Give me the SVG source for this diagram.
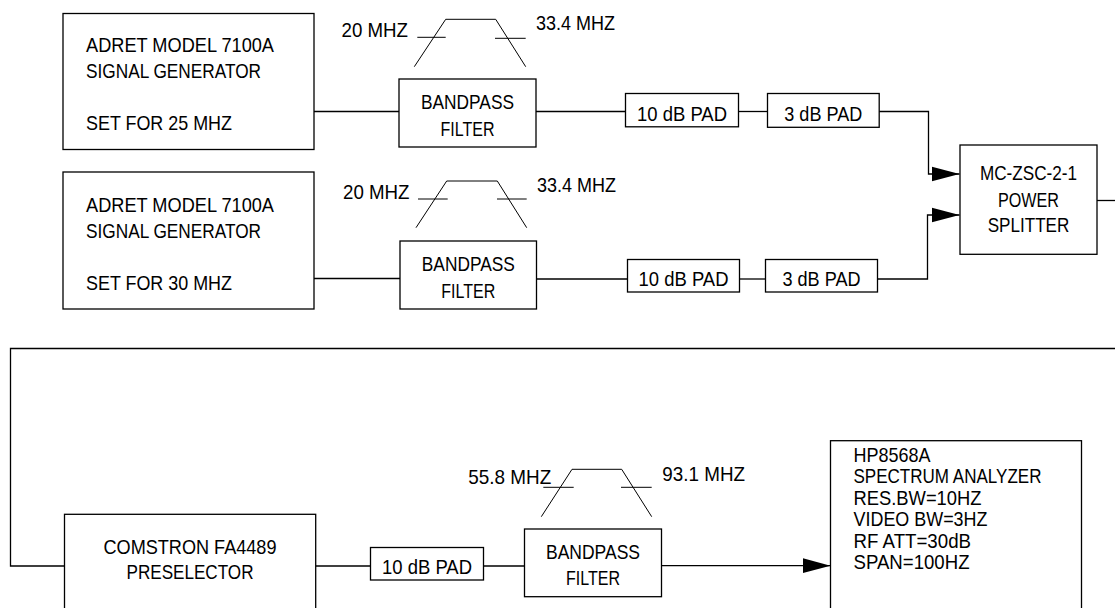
<svg xmlns="http://www.w3.org/2000/svg" width="1115" height="608" viewBox="0 0 1115 608">
<style>
  .box{fill:#fff;stroke:#000;stroke-width:1.3}
  .ln{fill:none;stroke:#000;stroke-width:1.3}
  .sym{fill:none;stroke:#000;stroke-width:1}
  text{font-family:"Liberation Sans Narrow","Liberation Sans",Arial,sans-serif;font-size:21px;fill:#000}
  .c{text-anchor:middle}
</style>
<defs>
  <marker id="arr" markerUnits="userSpaceOnUse" markerWidth="28" markerHeight="16" refX="28" refY="8" orient="auto">
    <path d="M0,0.5 L28,8 L0,15.5 z" fill="#000"/>
  </marker>
</defs>
<rect width="1115" height="608" fill="#fff"/>

<g id="connectors">
  <line class="ln" x1="314" y1="111.5" x2="399" y2="111.5"/>
  <line class="ln" x1="536" y1="111.5" x2="625.5" y2="111.5"/>
  <line class="ln" x1="738.5" y1="111.5" x2="767.5" y2="111.5"/>
  <polyline class="ln" points="879,111.5 928.5,111.5 928.5,174 959.5,174" marker-end="url(#arr)"/>
  <line class="ln" x1="314" y1="278.5" x2="400" y2="278.5"/>
  <line class="ln" x1="536.5" y1="279" x2="627.5" y2="279"/>
  <line class="ln" x1="739.5" y1="279" x2="765.5" y2="279"/>
  <polyline class="ln" points="877.5,279 927.5,279 927.5,215 959.5,215" marker-end="url(#arr)"/>
  <line class="ln" x1="1097" y1="200.5" x2="1115" y2="200.5"/>
  <polyline class="ln" points="1115,348.5 10.5,348.5 10.5,566 64.5,566"/>
  <line class="ln" x1="315.5" y1="566" x2="370.5" y2="566"/>
  <line class="ln" x1="483.5" y1="566" x2="524.5" y2="566"/>
  <line class="ln" x1="661.5" y1="565.7" x2="830.5" y2="565.7" marker-end="url(#arr)"/>
</g>

<g id="gen1">
  <rect class="box" x="63" y="13.5" width="251" height="136"/>
  <text x="86" y="52" textLength="188" lengthAdjust="spacingAndGlyphs">ADRET MODEL 7100A</text>
  <text x="86" y="78" textLength="175" lengthAdjust="spacingAndGlyphs">SIGNAL GENERATOR</text>
  <text x="86" y="130" textLength="146" lengthAdjust="spacingAndGlyphs">SET FOR 25 MHZ</text>
</g>
<g id="gen2">
  <rect class="box" x="63" y="172" width="251" height="137"/>
  <text x="86" y="212" textLength="188" lengthAdjust="spacingAndGlyphs">ADRET MODEL 7100A</text>
  <text x="86" y="238" textLength="175" lengthAdjust="spacingAndGlyphs">SIGNAL GENERATOR</text>
  <text x="86" y="290" textLength="146" lengthAdjust="spacingAndGlyphs">SET FOR 30 MHZ</text>
</g>

<g id="bpf1">
  <rect class="box" x="399" y="79" width="137" height="68"/>
  <text class="c" x="467.5" y="109" textLength="93" lengthAdjust="spacingAndGlyphs">BANDPASS</text>
  <text class="c" x="467.5" y="135.5" textLength="54" lengthAdjust="spacingAndGlyphs">FILTER</text>
  <polyline class="sym" points="414.3,66.7 445.7,19.3 495.7,19.3 525.7,66.7"/>
  <line class="sym" x1="417.3" y1="37.3" x2="445.7" y2="37.3"/>
  <line class="sym" x1="495" y1="38.3" x2="525.7" y2="38.3"/>
  <text x="341.5" y="37" textLength="66.5" lengthAdjust="spacingAndGlyphs">20 MHZ</text>
  <text x="536" y="29.5" textLength="79" lengthAdjust="spacingAndGlyphs">33.4 MHZ</text>
</g>
<g id="bpf2">
  <rect class="box" x="400" y="241" width="136.5" height="68"/>
  <text class="c" x="468.3" y="271" textLength="93" lengthAdjust="spacingAndGlyphs">BANDPASS</text>
  <text class="c" x="468.3" y="297.5" textLength="54" lengthAdjust="spacingAndGlyphs">FILTER</text>
  <polyline class="sym" points="416,227.7 446.7,181 497.3,181 526.7,227.7"/>
  <line class="sym" x1="418" y1="199" x2="447.7" y2="199"/>
  <line class="sym" x1="497" y1="199" x2="526.7" y2="199"/>
  <text x="343" y="199" textLength="66.5" lengthAdjust="spacingAndGlyphs">20 MHZ</text>
  <text x="537" y="191.5" textLength="79" lengthAdjust="spacingAndGlyphs">33.4 MHZ</text>
</g>

<g id="pad1a">
  <rect class="box" x="625.5" y="93.5" width="113" height="33.3"/>
  <text class="c" x="682" y="120.5" textLength="90" lengthAdjust="spacingAndGlyphs">10 dB PAD</text>
</g>
<g id="pad2a">
  <rect class="box" x="767.5" y="93.5" width="111.7" height="33.8"/>
  <text class="c" x="823.3" y="120.5" textLength="78" lengthAdjust="spacingAndGlyphs">3 dB PAD</text>
</g>
<g id="pad1b">
  <rect class="box" x="627.5" y="259.5" width="112" height="32.5"/>
  <text class="c" x="683.5" y="285.5" textLength="90" lengthAdjust="spacingAndGlyphs">10 dB PAD</text>
</g>
<g id="pad2b">
  <rect class="box" x="765.5" y="259.5" width="112" height="32.5"/>
  <text class="c" x="821.5" y="285.5" textLength="78" lengthAdjust="spacingAndGlyphs">3 dB PAD</text>
</g>

<g id="splitter">
  <rect class="box" x="960" y="145" width="137" height="109.3"/>
  <text class="c" x="1028.5" y="180" textLength="97" lengthAdjust="spacingAndGlyphs">MC-ZSC-2-1</text>
  <text class="c" x="1028.5" y="206.5" textLength="61" lengthAdjust="spacingAndGlyphs">POWER</text>
  <text class="c" x="1028.5" y="231.5" textLength="81.5" lengthAdjust="spacingAndGlyphs">SPLITTER</text>
</g>

<g id="preselector">
  <rect class="box" x="64.5" y="514.3" width="251.2" height="110"/>
  <text class="c" x="190" y="553.5" textLength="173" lengthAdjust="spacingAndGlyphs">COMSTRON FA4489</text>
  <text class="c" x="190" y="579" textLength="127" lengthAdjust="spacingAndGlyphs">PRESELECTOR</text>
</g>
<g id="pad3">
  <rect class="box" x="370.5" y="547.5" width="113" height="32.5"/>
  <text class="c" x="427" y="573.5" textLength="90" lengthAdjust="spacingAndGlyphs">10 dB PAD</text>
</g>
<g id="bpf3">
  <rect class="box" x="524.5" y="529" width="137" height="67.7"/>
  <text class="c" x="593" y="558.5" textLength="94" lengthAdjust="spacingAndGlyphs">BANDPASS</text>
  <text class="c" x="593" y="585" textLength="54" lengthAdjust="spacingAndGlyphs">FILTER</text>
  <polyline class="sym" points="541.3,516.7 572,469.3 621.7,469.3 651.7,516.7"/>
  <line class="sym" x1="543.3" y1="487.3" x2="573.7" y2="487.3"/>
  <line class="sym" x1="621" y1="487.3" x2="651.7" y2="487.3"/>
  <text x="468.3" y="483.5" textLength="83" lengthAdjust="spacingAndGlyphs">55.8 MHZ</text>
  <text x="662.3" y="480.5" textLength="82.7" lengthAdjust="spacingAndGlyphs">93.1 MHZ</text>
</g>

<g id="analyzer">
  <rect class="box" x="830.5" y="440.7" width="251" height="190"/>
  <text x="853.5" y="461.5" textLength="77" lengthAdjust="spacingAndGlyphs">HP8568A</text>
  <text x="853.5" y="483" textLength="188" lengthAdjust="spacingAndGlyphs">SPECTRUM ANALYZER</text>
  <text x="853.5" y="504.5" textLength="128" lengthAdjust="spacingAndGlyphs">RES.BW=10HZ</text>
  <text x="853.5" y="526" textLength="134" lengthAdjust="spacingAndGlyphs">VIDEO BW=3HZ</text>
  <text x="853.5" y="547.5" textLength="117.5" lengthAdjust="spacingAndGlyphs">RF ATT=30dB</text>
  <text x="853.5" y="569" textLength="116" lengthAdjust="spacingAndGlyphs">SPAN=100HZ</text>
</g>
</svg>
